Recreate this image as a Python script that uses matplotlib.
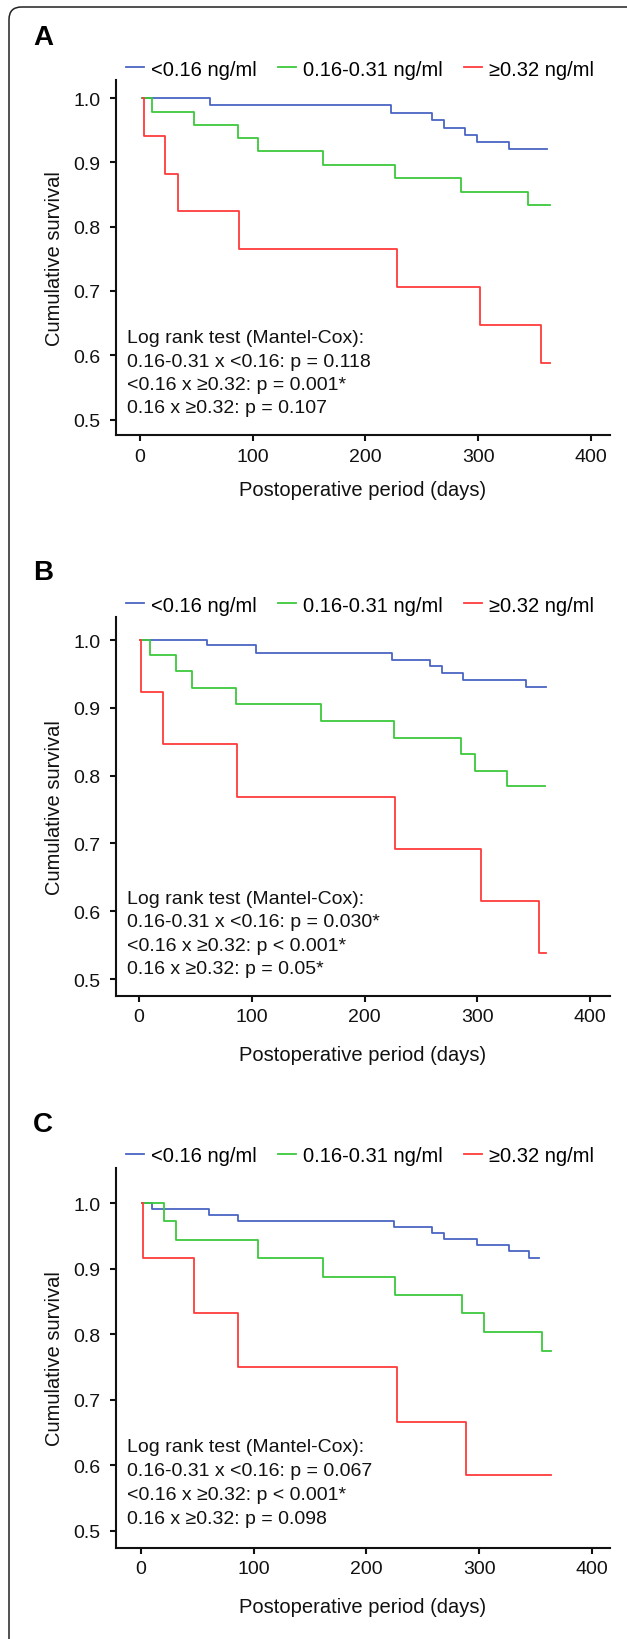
import matplotlib
matplotlib.use('Agg')
import matplotlib.pyplot as plt
from matplotlib.patches import FancyBboxPatch

plt.rcParams['font.family'] = ['Liberation Sans', 'DejaVu Sans']

# group names and colours
groups = ['<0.16 ng/ml', '0.16-0.31 ng/ml', '\u22650.32 ng/ml']
colors = ['#4a64c4', '#3cc83c', '#ff3c3c']

# panel A: step times (days) and survival after each step
a_blue_t = [2, 62, 223, 259, 270, 288, 299, 327, 361]
a_blue_s = [1.0, 0.989, 0.977, 0.966, 0.954, 0.943, 0.932, 0.920, 0.920]
a_green_t = [2, 11, 48, 87, 105, 162, 226, 285, 344, 364]
a_green_s = [1.0, 0.979, 0.958, 0.938, 0.917, 0.896, 0.875, 0.854, 0.833, 0.833]
a_red_t = [2.5, 3.5, 22, 34, 88, 228, 302, 356, 364]
a_red_s = [1.0, 0.941, 0.882, 0.824, 0.765, 0.706, 0.647, 0.588, 0.588]

# panel B
b_blue_t = [1, 60, 104, 224, 258, 269, 287, 343, 361]
b_blue_s = [1.0, 0.993, 0.981, 0.971, 0.961, 0.951, 0.941, 0.931, 0.931]
b_green_t = [1, 10, 33, 47, 86, 161, 226, 286, 298, 326, 360]
b_green_s = [1.0, 0.978, 0.954, 0.929, 0.905, 0.880, 0.856, 0.832, 0.807, 0.784, 0.784]
b_red_t = [1, 2, 21, 87, 227, 303, 355, 361]
b_red_s = [1.0, 0.923, 0.846, 0.769, 0.692, 0.615, 0.538, 0.538]

# panel C
c_blue_t = [1, 10, 60, 86, 224, 258, 269, 298, 326, 344, 353]
c_blue_s = [1.0, 0.992, 0.983, 0.973, 0.964, 0.955, 0.945, 0.936, 0.927, 0.917, 0.917]
c_green_t = [1, 20, 31, 104, 161, 225, 285, 304, 356, 364]
c_green_s = [1.0, 0.973, 0.944, 0.916, 0.888, 0.860, 0.832, 0.803, 0.774, 0.774]
c_red_t = [1, 2, 47, 86, 227, 288, 364]
c_red_s = [1.0, 0.917, 0.833, 0.750, 0.667, 0.586, 0.586]

# log rank test text per panel
a_text = ['Log rank test (Mantel-Cox):', '0.16-0.31 x <0.16: p = 0.118',
          '<0.16 x \u22650.32: p = 0.001*', '0.16 x \u22650.32: p = 0.107']
b_text = ['Log rank test (Mantel-Cox):', '0.16-0.31 x <0.16: p = 0.030*',
          '<0.16 x \u22650.32: p < 0.001*', '0.16 x \u22650.32: p = 0.05*']
c_text = ['Log rank test (Mantel-Cox):', '0.16-0.31 x <0.16: p = 0.067',
          '<0.16 x \u22650.32: p < 0.001*', '0.16 x \u22650.32: p = 0.098']

yticks = [0.5, 0.6, 0.7, 0.8, 0.9, 1.0]
xticks = [0, 100, 200, 300, 400]

W, H = 627, 1640
fig = plt.figure(figsize=(W / 100, H / 100), dpi=100)

# outer rounded frame (right and bottom cut by the image edge)
frame = FancyBboxPatch((9 / W, 1 - 1660 / H), (640 - 9) / W, (1660 - 8) / H,
                       boxstyle='round,pad=0,rounding_size=0.02',
                       transform=fig.transFigure, fill=False, lw=1.1,
                       ec='#222222', mutation_aspect=W / H)
fig.patches.append(frame)

# panel layout in pixels: (letter, top, bottom, xlim, ylim, text line y, legend y, label y)
panels = [
    ('A', 81, 436, (-21.3, 416.9), (0.476, 1.028), [0.627, 0.591, 0.555, 0.518], 70, 38,
     [(a_blue_t, a_blue_s), (a_green_t, a_green_s), (a_red_t, a_red_s)], a_text),
    ('B', 618, 997, (-20.4, 417.7), (0.475, 1.034), [0.619, 0.585, 0.550, 0.515], 606, 573,
     [(b_blue_t, b_blue_s), (b_green_t, b_green_s), (b_red_t, b_red_s)], b_text),
    ('C', 1169, 1549, (-22.2, 416.0), (0.474, 1.054), [0.629, 0.592, 0.556, 0.519], 1157, 1125,
     [(c_blue_t, c_blue_s), (c_green_t, c_green_s), (c_red_t, c_red_s)], c_text),
]

left, right = 116, 610
for letter, top, bot, xl, yl, ty, legy, laby, curves, txt in panels:
    ax = fig.add_axes([left / W, 1 - bot / H, (right - left) / W, (bot - top) / H])
    lines = []
    for (t, s), col, name in zip(curves, colors, groups):
        ln, = ax.step(t, s, where='post', color=col, lw=1.3, label=name)
        lines.append(ln)
    ax.set_xlim(*xl)
    ax.set_ylim(*yl)
    ax.set_xticks(xticks)
    ax.set_yticks(yticks)
    ax.set_yticklabels(['%.1f' % v for v in yticks])
    ax.spines['top'].set_visible(False)
    ax.spines['right'].set_visible(False)
    for sp in ['left', 'bottom']:
        ax.spines[sp].set_linewidth(1.5)
        ax.spines[sp].set_color('#111111')
    ax.tick_params(axis='y', length=4, width=1.5, pad=7, labelsize=14, colors='#111111')
    ax.tick_params(axis='x', length=4, width=1.5, pad=5, labelsize=14, colors='#111111')
    ax.set_xlabel('Postoperative period (days)', fontsize=14.5, va='center', color='#111111')
    ax.xaxis.set_label_coords(0.5, -(491 - 436) / (436 - 81))
    ax.set_ylabel('Cumulative survival', fontsize=14.5, va='center', color='#111111')
    ax.yaxis.set_label_coords((54 - left) / (right - left), 0.5)
    # one text per line of the log rank box
    for yy, line in zip(ty, txt):
        ax.text(0.022, yy, line, transform=ax.get_yaxis_transform(),
                ha='left', va='center', fontsize=14, color='#111111')
    fig.text(43 / W, 1 - laby / H, letter, fontsize=20, fontweight='bold',
             ha='center', va='center')
    fig.legend(handles=lines, loc='center left', bbox_to_anchor=(126 / W, 1 - legy / H),
               bbox_transform=fig.transFigure, ncol=3, frameon=False, fontsize=14.5,
               borderpad=0, borderaxespad=0, handlelength=0.9, handletextpad=0.35,
               columnspacing=1.05)

fig.savefig('out.png', dpi=100)
